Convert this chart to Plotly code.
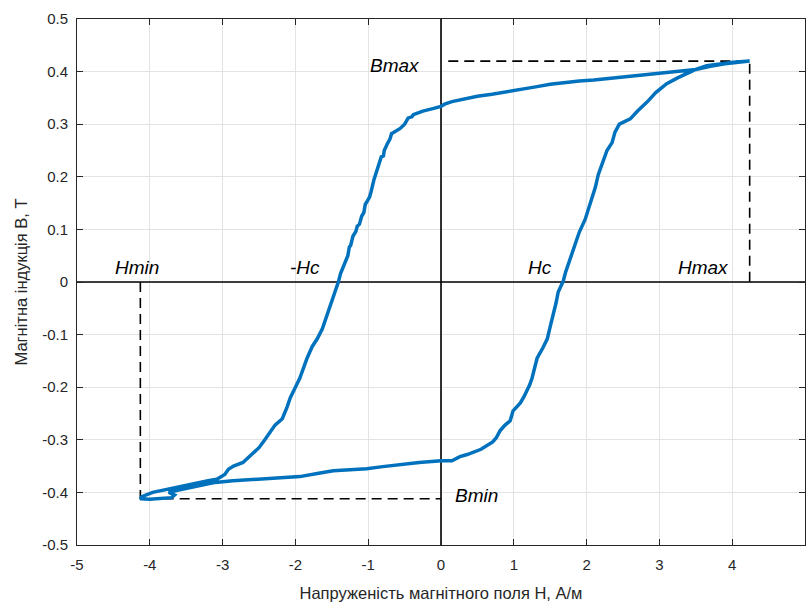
import plotly.graph_objects as go

# Descending branch of the hysteresis loop (from +Hmax to -Hmax), H in A/m, B in T
h_down = [4.24, 4.10, 3.90, 3.70, 3.50, 3.30, 3.10, 2.90, 2.70, 2.50, 2.30, 2.10, 1.90, 1.70,
          1.50, 1.30, 1.10, 0.90, 0.70, 0.50, 0.30, 0.15, 0.05, 0.00, -0.10, -0.25, -0.38,
          -0.40, -0.45, -0.50, -0.56, -0.63, -0.68, -0.70, -0.72, -0.74, -0.78, -0.79, -0.82,
          -0.86, -0.88, -0.90, -0.92, -0.96, -0.98, -1.02, -1.04, -1.06, -1.09, -1.12, -1.15,
          -1.17, -1.21, -1.24, -1.26, -1.28, -1.31, -1.36, -1.38, -1.41, -1.46, -1.52, -1.54,
          -1.57, -1.63, -1.70, -1.77, -1.84, -1.90, -1.94, -2.00, -2.07, -2.12, -2.18, -2.28,
          -2.35, -2.42, -2.50, -2.58, -2.66, -2.72, -2.85, -2.92, -2.97, -3.08, -3.20, -3.31,
          -3.54, -3.76, -3.96, -4.11, -4.13]
b_down = [0.420, 0.418, 0.415, 0.410, 0.404, 0.401, 0.398, 0.395, 0.392, 0.390, 0.387, 0.384,
          0.382, 0.379, 0.376, 0.371, 0.366, 0.361, 0.357, 0.353, 0.348, 0.343, 0.338, 0.334,
          0.330, 0.325, 0.318, 0.314, 0.312, 0.300, 0.292, 0.286, 0.282, 0.272, 0.268, 0.262,
          0.250, 0.240, 0.238, 0.222, 0.212, 0.206, 0.195, 0.172, 0.162, 0.152, 0.148, 0.132,
          0.125, 0.110, 0.106, 0.096, 0.087, 0.070, 0.066, 0.050, 0.040, 0.022, 0.016, 0.000,
          -0.020, -0.045, -0.049, -0.065, -0.089, -0.108, -0.123, -0.145, -0.170, -0.183,
          -0.200, -0.220, -0.240, -0.260, -0.272, -0.287, -0.300, -0.315, -0.325, -0.335,
          -0.343, -0.350, -0.356, -0.366, -0.375, -0.378, -0.381, -0.387, -0.394, -0.400,
          -0.408, -0.412]

# Ascending branch (from -Hmax back to +Hmax)
h_up = [-4.13, -4.00, -3.85, -3.70, -3.66, -3.74, -3.62, -3.45, -3.31, -3.10, -2.86,
        -2.60, -2.39, -2.15, -1.94, -1.70, -1.48, -1.25, -1.02, -0.80, -0.56, -0.30, 0.00,
        0.15, 0.26, 0.36, 0.55, 0.71, 0.76, 0.81, 0.88, 0.95, 0.99, 1.05, 1.09, 1.14, 1.18,
        1.22, 1.25, 1.28, 1.32, 1.40, 1.46, 1.50, 1.54, 1.58, 1.61, 1.65, 1.68, 1.71, 1.74,
        1.79, 1.84, 1.90, 1.98, 2.03, 2.07, 2.12, 2.16, 2.22, 2.28, 2.35, 2.39, 2.45, 2.52,
        2.60, 2.70, 2.83, 2.95, 3.10, 3.25, 3.38, 3.50, 3.65, 3.80, 4.01, 4.24]
b_up = [-0.412, -0.413, -0.412, -0.410, -0.405, -0.400, -0.396, -0.391, -0.386,
        -0.381, -0.378, -0.376, -0.375, -0.372, -0.370, -0.364, -0.359, -0.357, -0.355,
        -0.351, -0.347, -0.343, -0.340, -0.340, -0.332, -0.328, -0.318, -0.304, -0.296,
        -0.283, -0.272, -0.264, -0.245, -0.237, -0.230, -0.218, -0.208, -0.195, -0.183,
        -0.165, -0.145, -0.125, -0.108, -0.085, -0.064, -0.040, -0.019, -0.008, 0.002,
        0.018, 0.030, 0.050, 0.075, 0.095, 0.119, 0.140, 0.157, 0.180, 0.204, 0.228, 0.250,
        0.265, 0.285, 0.300, 0.305, 0.310, 0.325, 0.342, 0.360, 0.377, 0.388, 0.396, 0.404,
        0.411, 0.414, 0.418, 0.420]

# Characteristic points of the loop
h_max, b_max = 4.24, 0.420
h_min, b_min = -4.13, -0.412

# Tick values and labels
x_ticks = [-5, -4, -3, -2, -1, 0, 1, 2, 3, 4, 5]
x_labels = ["-5", "-4", "-3", "-2", "-1", "0", "1", "2", "3", "4", "5"]
y_ticks = [-0.5, -0.4, -0.3, -0.2, -0.1, 0, 0.1, 0.2, 0.3, 0.4, 0.5]
y_labels = ["-0.5", "-0.4", "-0.3", "-0.2", "-0.1", "0", "0.1", "0.2", "0.3", "0.4", "0.5"]

FONT = "Liberation Sans"
LOOP_COLOR = "#0072BD"
DASH = "10px,6px"

fig = go.Figure()

# Coordinate axes through the origin
fig.add_trace(go.Scatter(x=[-5, 5], y=[0, 0], mode="lines",
                         line=dict(color="black", width=1.6), hoverinfo="skip"))
fig.add_trace(go.Scatter(x=[0, 0], y=[-0.5, 0.5], mode="lines",
                         line=dict(color="black", width=1.6), hoverinfo="skip"))

# Dashed guides to the extreme points
fig.add_trace(go.Scatter(x=[0.1, h_max, h_max], y=[b_max, b_max, 0], mode="lines",
                         line=dict(color="black", width=1.6, dash=DASH), hoverinfo="skip"))
fig.add_trace(go.Scatter(x=[h_min, h_min, 0], y=[0, b_min, b_min], mode="lines",
                         line=dict(color="black", width=1.6, dash=DASH), hoverinfo="skip"))

# Hysteresis loop
fig.add_trace(go.Scatter(x=h_down + h_up, y=b_down + b_up, mode="lines",
                         line=dict(color=LOOP_COLOR, width=3.5), hoverinfo="skip"))

labels = [
    ("Bmax", -0.63, 0.412),
    ("Hmin", -4.18, 0.028),
    ("-Hc", -1.87, 0.028),
    ("Hc", 1.36, 0.028),
    ("Hmax", 3.60, 0.028),
    ("Bmin", 0.49, -0.406),
]
for text, x, y in labels:
    fig.add_annotation(x=x, y=y, text=f"<i>{text}</i>", showarrow=False,
                       font=dict(family=FONT, size=19, color="black"),
                       xanchor="center", yanchor="middle")

axis_common = dict(
    showgrid=True, gridcolor="#e3e3e3", gridwidth=1,
    zeroline=False,
    showline=True, linecolor="#262626", linewidth=1, mirror="ticks",
    ticks="inside", ticklen=6, tickcolor="#262626", tickwidth=1,
    tickfont=dict(family=FONT, size=15, color="#262626"),
)

fig.update_layout(
    width=808, height=602,
    margin=dict(l=77, r=3, t=19, b=57),
    paper_bgcolor="white", plot_bgcolor="white",
    showlegend=False,
    xaxis=dict(range=[-5, 5], tickvals=x_ticks, ticktext=x_labels, ticklabelstandoff=6,
               title=dict(text="Напруженість магнітного поля Н, А/м",
                          font=dict(family=FONT, size=16.5, color="#262626"), standoff=15),
               **axis_common),
    yaxis=dict(range=[-0.5, 0.5], tickvals=y_ticks, ticktext=y_labels, ticklabelstandoff=5,
               title=dict(text="Магнітна індукція В, Т",
                          font=dict(family=FONT, size=16.5, color="#262626"), standoff=10),
               **axis_common),
)

fig.write_html("out.html")
